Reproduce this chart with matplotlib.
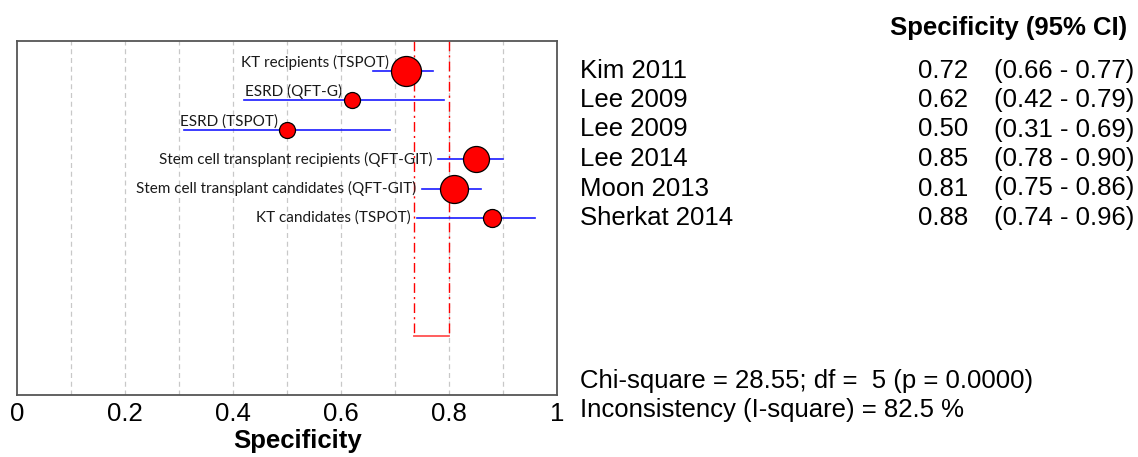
import numpy as np
import matplotlib
matplotlib.use("Agg")
import matplotlib.pyplot as plt
from matplotlib.transforms import blended_transform_factory

# study data
studies = ["Kim 2011", "Lee 2009", "Lee 2009", "Lee 2014", "Moon 2013", "Sherkat 2014"]
groups = ["KT recipients (TSPOT)", "ESRD (QFT-G)", "ESRD (TSPOT)",
          "Stem cell transplant recipients (QFT-GIT)",
          "Stem cell transplant candidates (QFT-GIT)", "KT candidates (TSPOT)"]
spec = [0.72, 0.62, 0.50, 0.85, 0.81, 0.88]
lo = [0.66, 0.42, 0.31, 0.78, 0.75, 0.74]
hi = [0.77, 0.79, 0.69, 0.90, 0.86, 0.96]
weight = [225, 64, 64, 169, 196, 81]   # relative study weight (marker area)
pooled_lo = 0.735
pooled_hi = 0.80
chi_text = "Chi-square = 28.55; df =  5 (p = 0.0000)"
i2_text = "Inconsistency (I-square) = 82.5 %"

W, H = 1138, 457
fig = plt.figure(figsize=(W / 100, H / 100), dpi=100)
ax = fig.add_axes([17 / W, 1 - 395 / H, 540 / W, 354 / H])

ax.set_xlim(0, 1)
ax.set_ylim(12, 0)
for g in np.arange(0.1, 0.95, 0.1):
    ax.axvline(g, color="#c8c8c8", lw=0.9, ls=(0, (4, 3)), zorder=0)

# pooled CI box
dd = (0, (7, 3, 1.5, 3))
ax.plot([pooled_lo, pooled_lo], [0, 10], color="red", lw=1.0, ls=dd, zorder=1)
ax.plot([pooled_hi, pooled_hi], [0, 10], color="red", lw=1.0, ls=dd, zorder=1)
ax.plot([pooled_lo, pooled_hi], [10, 10], color="#ff5050", lw=1.3, zorder=1)

rows = np.arange(1, len(spec) + 1)
label_above = [True, True, True, False, False, False]
lab_font = ["Lato", "DejaVu Sans"]
for i, r in enumerate(rows):
    ax.plot([lo[i], hi[i]], [r, r], color="#1a1aff", lw=1.2, zorder=2)
    d = 2 * np.sqrt(weight[i]) / 1.389
    ax.plot(spec[i], r, "o", ms=d, mfc="red", mec="black", mew=0.9, zorder=3)
    if label_above[i]:
        ax.annotate(groups[i], (spec[i], r), xytext=(-d * 0.5 - 1, 6),
                    textcoords="offset points", ha="right", va="center",
                    fontsize=11, family=lab_font, color="#1a1a1a")
    else:
        ax.annotate(groups[i], (lo[i], r), xytext=(-4, 0),
                    textcoords="offset points", ha="right", va="center",
                    fontsize=11, family=lab_font, color="#1a1a1a")

fs = 18.5
ax.set_yticks([])
ax.set_xticks([0, 0.2, 0.4, 0.6, 0.8, 1.0])
ax.set_xticklabels(["0", "0.2", "0.4", "0.6", "0.8", "1"])
ax.tick_params(axis="x", length=0, pad=5, labelsize=fs)
for lab in ax.get_xticklabels():
    lab.set_family("Liberation Sans")
for s in ax.spines.values():
    s.set_color("#555555")
    s.set_linewidth(1.3)
ax.set_xlabel("Specificity", fontsize=fs, fontweight="bold",
              family="Liberation Sans")
ax.xaxis.set_label_coords(0.52, -0.095)

# right-hand table
tr = blended_transform_factory(fig.transFigure, ax.transData)
for i, r in enumerate(rows):
    fig.text(580 / W, r, studies[i], transform=tr, fontsize=fs,
             family="Liberation Sans", va="center")
    fig.text(968 / W, r, "%.2f" % spec[i], transform=tr, fontsize=fs,
             family="Liberation Sans", va="center", ha="right")
    fig.text(994 / W, r, "(%.2f - %.2f)" % (lo[i], hi[i]), transform=tr,
             fontsize=fs, family="Liberation Sans", va="center")
fig.text(890 / W, 1 - 28 / H, "Specificity (95% CI)", fontsize=fs,
         fontweight="bold", family="Liberation Sans", va="center")
fig.text(580 / W, 1 - 381 / H, chi_text, fontsize=fs,
         family="Liberation Sans", va="center")
fig.text(580 / W, 1 - 410 / H, i2_text, fontsize=fs,
         family="Liberation Sans", va="center")

fig.savefig("out.png", dpi=100)
